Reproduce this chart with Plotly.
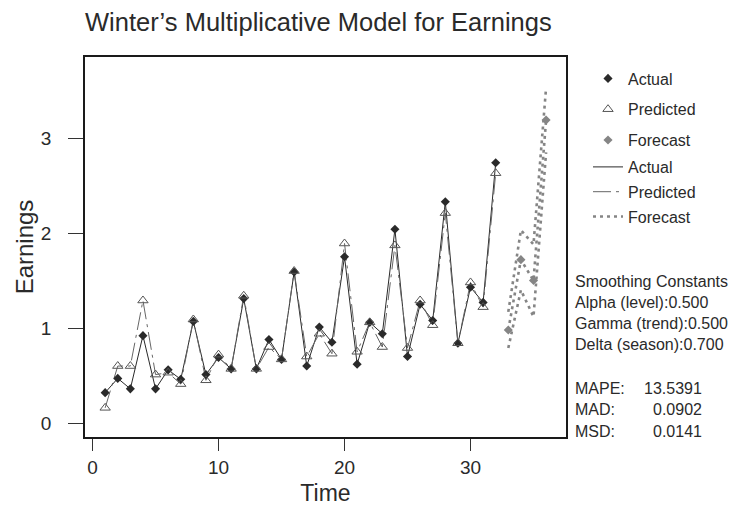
import plotly.graph_objects as go

# ---- data ----
time = list(range(1, 33))
actual = [0.32, 0.47, 0.36, 0.92, 0.36, 0.56, 0.46, 1.07, 0.51, 0.69, 0.57, 1.31,
          0.57, 0.88, 0.67, 1.59, 0.60, 1.01, 0.85, 1.75, 0.62, 1.06, 0.94, 2.04,
          0.70, 1.25, 1.08, 2.33, 0.84, 1.43, 1.27, 2.74]
predicted = [0.16, 0.60, 0.60, 1.29, 0.51, 0.53, 0.41, 1.09, 0.45, 0.72, 0.57, 1.34,
             0.57, 0.80, 0.67, 1.60, 0.70, 0.94, 0.73, 1.89, 0.75, 1.06, 0.80, 1.87,
             0.79, 1.29, 1.03, 2.21, 0.84, 1.48, 1.22, 2.63]
forecast_time = [33, 34, 35, 36]
forecast = [0.98, 1.72, 1.50, 3.19]
forecast_lower = [0.79, 1.40, 1.12, 2.85]
forecast_upper = [1.17, 2.03, 1.88, 3.53]

x_ticks = [0, 10, 20, 30]
y_ticks = [0, 1, 2, 3]

stats_labels = ["Smoothing Constants", "Alpha (level):0.500", "Gamma (trend):0.500",
                "Delta (season):0.700"]
acc_labels = ["MAPE:", "MAD:", "MSD:"]
acc_values = ["13.5391", "0.0902", "0.0141"]

FONT = "Liberation Sans, Arial, Helvetica, sans-serif"
DARK = "#2a2a2a"
GRAY = "#858585"

fig = go.Figure()

# lines (drawn first, below markers)
fig.add_trace(go.Scatter(x=time, y=actual, mode="lines", name="Actual",
                         line=dict(color=DARK, width=1), legend="legend2",
                         legendgroup="la", legendrank=1))
fig.add_trace(go.Scatter(x=time, y=predicted, mode="lines", name="Predicted",
                         line=dict(color="#666666", width=1, dash="18px,5px,3px,5px"),
                         legend="legend2", legendgroup="lp", legendrank=2))
for arr in (forecast_lower, forecast_upper):
    fig.add_trace(go.Scatter(x=forecast_time, y=arr, mode="lines", showlegend=False,
                             line=dict(color=GRAY, width=2.6, dash="3px,4px"),
                             hoverinfo="skip"))
fig.add_trace(go.Scatter(x=forecast_time, y=forecast, mode="lines", name="Forecast",
                         line=dict(color=GRAY, width=2.6, dash="3px,4px"),
                         legend="legend2", legendgroup="lf", legendrank=3))

# markers
fig.add_trace(go.Scatter(x=time, y=actual, mode="markers", name="Actual",
                         marker=dict(symbol="diamond", size=7, color=DARK),
                         legend="legend", legendgroup="ma", legendrank=1))
fig.add_trace(go.Scatter(x=time, y=predicted, mode="markers", name="Predicted",
                         marker=dict(symbol="triangle-up-open", size=9, color="#555555",
                                     line=dict(width=1)),
                         legend="legend", legendgroup="mp", legendrank=2))
fig.add_trace(go.Scatter(x=forecast_time, y=forecast, mode="markers", name="Forecast",
                         marker=dict(symbol="diamond", size=7, color=GRAY),
                         legend="legend", legendgroup="mf", legendrank=3))

# plot box geometry (px)
L, R, T, B = 85, 566, 57, 437
W, H = R - L, B - T

def px_x(p):
    return (p - L) / W

def px_y(p):
    return (B - p) / H

annotations = []
for i, txt in enumerate(stats_labels):
    annotations.append(dict(text=txt, x=px_x(573), y=px_y(281 + 21 * i), xref="paper",
                            yref="paper", xanchor="left", yanchor="middle",
                            showarrow=False, font=dict(size=16, color=DARK, family=FONT)))
for i, (lab, val) in enumerate(zip(acc_labels, acc_values)):
    yy = px_y(388 + 21.5 * i)
    annotations.append(dict(text=lab, x=px_x(573), y=yy, xref="paper", yref="paper",
                            xanchor="left", yanchor="middle", showarrow=False,
                            font=dict(size=16, color=DARK, family=FONT)))
    annotations.append(dict(text=val, x=px_x(704), y=yy, xref="paper", yref="paper",
                            xanchor="right", yanchor="middle", showarrow=False,
                            font=dict(size=16, color=DARK, family=FONT)))

axis_common = dict(showgrid=False, zeroline=False, showline=True, mirror=True,
                   linecolor="#1a1a1a", linewidth=1.5, ticks="outside",
                   tickcolor="#333333", tickwidth=1.2, automargin=False,
                   tickfont=dict(size=19, color=DARK, family=FONT))

fig.update_layout(
    width=736, height=510,
    margin=dict(l=L, r=736 - R, t=T, b=510 - B, autoexpand=False),
    paper_bgcolor="white", plot_bgcolor="white",
    font=dict(family=FONT, color=DARK),
    title=dict(text="Winter’s Multiplicative Model for Earnings",
               x=0.0, xref="paper", xanchor="left",
               y=1 - 22 / 510, yref="container", yanchor="middle",
               font=dict(size=25.5, color=DARK, family=FONT)),
    xaxis=dict(range=[-0.6, 37.58], tickvals=x_ticks, ticklen=12,
               title=dict(text="Time", font=dict(size=23, color=DARK, family=FONT),
                          standoff=8),
               **axis_common),
    yaxis=dict(range=[-0.147, 3.853], tickvals=y_ticks, ticklen=15,
               ticklabelstandoff=13,
               title=dict(text="Earnings", font=dict(size=24, color=DARK, family=FONT),
                          standoff=0),
               **axis_common),
    legend=dict(x=px_x(588), y=px_y(61.5), xref="paper", yref="paper",
                xanchor="left", yanchor="top", traceorder="grouped",
                tracegroupgap=7, bgcolor="rgba(0,0,0,0)",
                font=dict(size=16, color=DARK, family=FONT)),
    legend2=dict(x=px_x(588), y=px_y(150), xref="paper", yref="paper",
                 xanchor="left", yanchor="top", traceorder="grouped",
                 tracegroupgap=1, bgcolor="rgba(0,0,0,0)",
                 font=dict(size=16, color=DARK, family=FONT)),
    annotations=annotations,
    showlegend=True,
)

fig.write_html("out.html", config={"displayModeBar": False},
               post_script="document.body.style.margin='0px';document.body.style.padding='0px';")
